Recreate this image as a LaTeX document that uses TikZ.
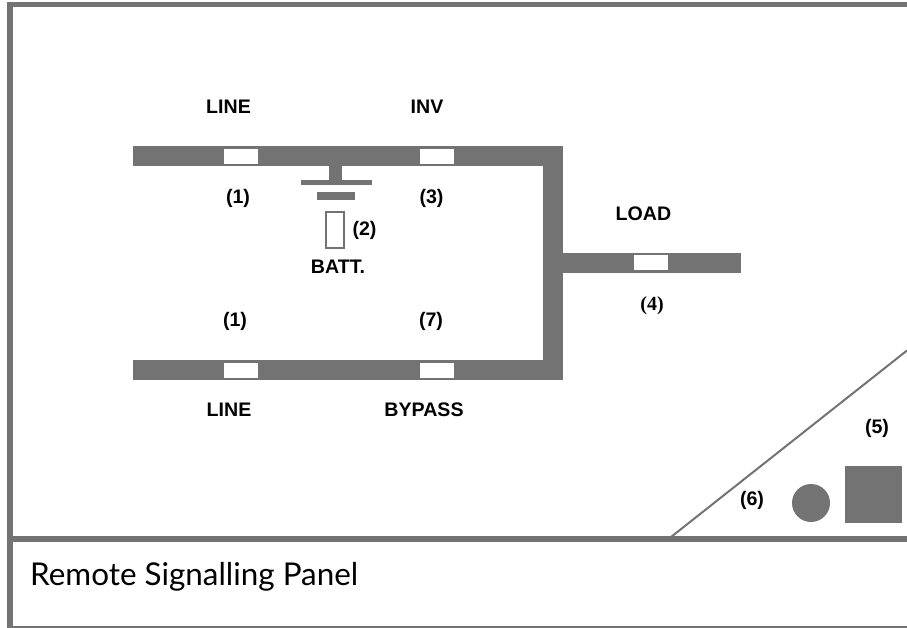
\documentclass[tikz,border=0pt]{standalone}
\usepackage{fontspec}
\setmainfont{Liberation Sans}
\newfontfamily\serifbold{Liberation Serif}
\newfontfamily\handfont{Lato}
\definecolor{pgrey}{HTML}{737373}
\tikzset{
  bus/.style={fill=pgrey,draw=none},
  win/.style={fill=white,draw=none},
  lab/.style={font=\fontsize{19.600}{21}\selectfont\bfseries,text=black,inner sep=0pt,anchor=center},
}
\begin{document}
\begin{tikzpicture}[x=1pt,y=-1pt]
\useasboundingbox (0,0) rectangle (907,628);
\fill[white] (0,0) rectangle (907,628);
% frame
\fill[pgrey] (7,2) rectangle (907,7);
\fill[pgrey] (7,2) rectangle (12.500,628);
\fill[pgrey] (7,536) rectangle (907,542);
\fill[pgrey] (7,626) rectangle (907,628);
% buses
\fill[bus] (133,146) rectangle (563,166);
\fill[bus] (133,360) rectangle (563,380);
\fill[bus] (543,146) rectangle (563,380);
\fill[bus] (563,253) rectangle (741,273);
\fill[win] (224,149) rectangle (258,164);
\fill[win] (420,149) rectangle (454,164);
\fill[win] (224,363) rectangle (258,378);
\fill[win] (420,363) rectangle (454,378);
\fill[win] (634,255.500) rectangle (668,270.500);
% battery
\fill[bus] (329,166) rectangle (342,182);
\fill[bus] (301,180) rectangle (372,185);
\fill[bus] (317,192) rectangle (355,200);
\draw[pgrey,line width=2pt] (325.500,212.500) rectangle (343.500,248.500);
% panel
\draw[pgrey,line width=2pt] (671,537) -- (907,350.500);
\fill[pgrey] (811,503) circle (19);
\fill[pgrey] (845,466) rectangle (901.500,523);
% labels
\node[lab] (l1) at (228.500,106.500) {LINE};
\node[lab] (l2) at (427,106.500) {INV};
\node[lab] (l3) at (238,198) {(1)};
\node[lab] (l4) at (431.500,198) {(3)};
\node[lab] (l5) at (364.500,230) {(2)};
\node[lab] (l6) at (338,267) {BATT.};
\node[lab] (l7) at (643.500,213.500) {LOAD};
\node[lab,font=\fontsize{20}{21}\selectfont\serifbold\bfseries] (l8) at (652,306) {(4)};
\node[lab] (l9) at (235,321.500) {(1)};
\node[lab] (l10) at (431,321.500) {(7)};
\node[lab] (l11) at (229,410) {LINE};
\node[lab] (l12) at (424,410) {BYPASS};
\node[lab] (l13) at (877,428) {(5)};
\node[lab] (l14) at (752,500.500) {(6)};
\node[font=\fontsize{31.400}{34}\selectfont\handfont,text=black,inner sep=0pt,anchor=base west] (title) at (30,585) {Remote Signalling Panel};
\end{tikzpicture}
\end{document}
